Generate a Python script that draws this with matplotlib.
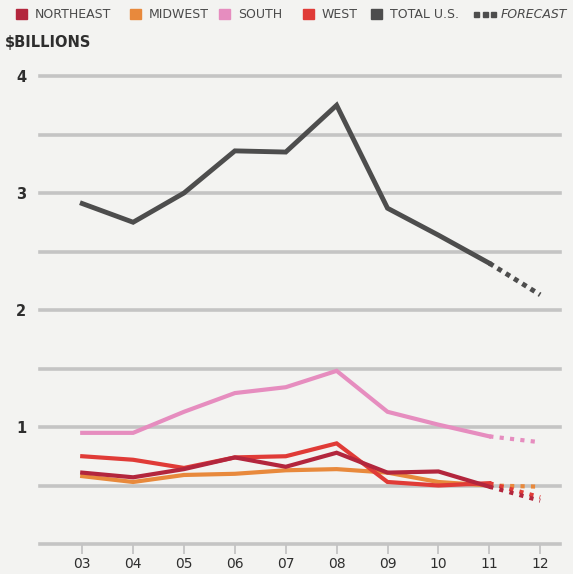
import matplotlib.pyplot as plt
from matplotlib.patches import Rectangle

years = [2003, 2004, 2005, 2006, 2007, 2008, 2009, 2010, 2011]
year_labels = ['03', '04', '05', '06', '07', '08', '09', '10', '11', '12']
forecast_years = [2011, 2012]

northeast = [0.61, 0.57, 0.64, 0.74, 0.66, 0.78, 0.61, 0.62, 0.49]
midwest = [0.58, 0.53, 0.59, 0.60, 0.63, 0.64, 0.61, 0.53, 0.50]
south = [0.95, 0.95, 1.13, 1.29, 1.34, 1.48, 1.13, 1.02, 0.92]
west = [0.75, 0.72, 0.65, 0.74, 0.75, 0.86, 0.53, 0.50, 0.52]
total_us = [2.91, 2.75, 3.00, 3.36, 3.35, 3.75, 2.87, 2.64, 2.40]

northeast_fc = [0.49, 0.37]
midwest_fc = [0.50, 0.49]
south_fc = [0.92, 0.87]
west_fc = [0.52, 0.40]
total_fc = [2.40, 2.13]

c_ne = '#b3263d'
c_mw = '#e8893c'
c_so = '#e68dbf'
c_we = '#e03b37'
c_tot = '#4d4d4d'
bg = '#f3f3f1'
grid_c = '#c4c4c4'
text_c = '#2e2e2e'

fig = plt.figure(figsize=(5.73, 5.74), dpi=100, facecolor=bg)
ax = fig.add_axes([40 / 573, 30 / 574, 520 / 573, 468 / 574])
ax.set_facecolor(bg)
ax.set_xlim(2003 - 0.83, 2012 + 0.39)
ax.set_ylim(0, 4)

# horizontal grid lines every 0.5
for g in [0, 0.5, 1, 1.5, 2, 2.5, 3, 3.5, 4]:
    ax.axhline(g, color=grid_c, lw=2.6, zorder=1, clip_on=False)

for s in ax.spines.values():
    s.set_visible(False)

ax.set_xticks(range(2003, 2013))
ax.set_xticklabels(year_labels, fontsize=10, color=text_c)
ax.tick_params(axis='x', length=7, width=1.3, color=grid_c, pad=2)
ax.set_yticks([1, 2, 3, 4])
ax.set_yticklabels(['1', '2', '3', '4'], fontsize=10.5, color=text_c, fontweight='bold')
ax.tick_params(axis='y', length=0, pad=10)

lw = 3.0
series = [(midwest, midwest_fc, c_mw), (west, west_fc, c_we),
          (northeast, northeast_fc, c_ne), (south, south_fc, c_so)]
for vals, fc, col in series:
    ax.plot(years, vals, color=col, lw=lw, solid_joinstyle='miter', zorder=3)
    ax.plot(forecast_years, fc, color=col, lw=lw, dashes=(1, 1.5),
            dash_capstyle='butt', zorder=3)
ax.plot(years, total_us, color=c_tot, lw=3.5, solid_joinstyle='miter', zorder=4)
ax.plot(forecast_years, total_fc, color=c_tot, lw=3.5, dashes=(1, 1),
        dash_capstyle='butt', zorder=4)

# legend across the top
legend_items = [('NORTHEAST', c_ne, 16), ('MIDWEST', c_mw, 130), ('SOUTH', c_so, 219),
                ('WEST', c_we, 303), ('TOTAL U.S.', c_tot, 371)]
W, H = 573, 574
for label, col, x0 in legend_items:
    fig.patches.append(Rectangle((x0 / W, (H - 19) / H), 11 / W, 10 / H,
                                 transform=fig.transFigure, color=col))
    fig.text((x0 + 19) / W, (H - 14) / H, label, fontsize=9, color='#4a4a4a',
             va='center', ha='left')
for i in range(3):
    fig.patches.append(Rectangle(((474 + i * 8.5) / W, (H - 17) / H), 5 / W, 5 / H,
                                 transform=fig.transFigure, color=c_tot))
fig.text(501 / W, (H - 14) / H, 'FORECAST', fontsize=9, color='#4a4a4a',
         style='italic', va='center', ha='left')

fig.text(5 / W, (H - 43) / H, '$BILLIONS', fontsize=10.5, color=text_c,
         fontweight='bold', va='center', ha='left')

fig.savefig('out.png', dpi=100, facecolor=bg)
